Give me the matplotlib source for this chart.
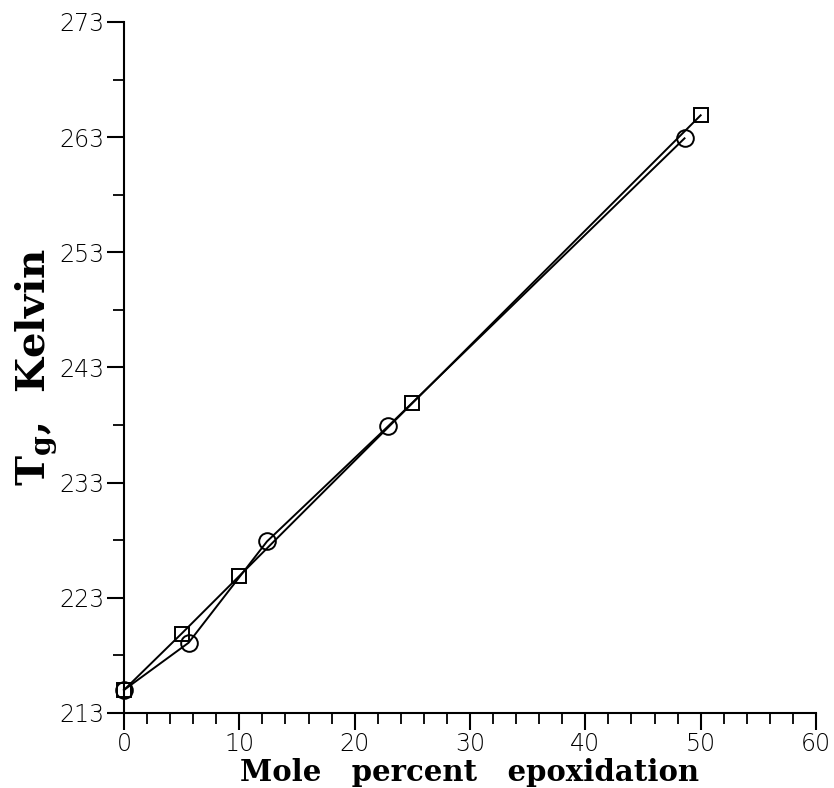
import matplotlib
matplotlib.use("Agg")
import matplotlib.pyplot as plt
import numpy as np

circle_x = [0.0, 5.6, 12.4, 22.9, 48.6]
circle_y = [215.0, 219.1, 227.9, 237.9, 262.9]
square_x = [0.0, 5.0, 10.0, 25.0, 50.0]
square_y = [215.0, 219.9, 224.9, 239.9, 264.9]

xticks = [0, 10, 20, 30, 40, 50, 60]
yticks = [213, 223, 233, 243, 253, 263, 273]

plt.rcParams["mathtext.fontset"] = "dejavuserif"

fig = plt.figure(figsize=(8.34, 7.88), dpi=100)
ax = fig.add_axes([124/834, 1-713/788, (816-124)/834, (713-22)/788])

ax.plot(circle_x, circle_y, color="black", lw=1.4, marker="o", ms=12,
        mfc="none", mec="black", mew=1.4, zorder=3, clip_on=False)
ax.plot(square_x, square_y, color="black", lw=1.4, marker="s", ms=10,
        mfc="none", mec="black", mew=1.4, zorder=3, clip_on=False)

ax.set_xlim(0, 60)
ax.set_ylim(213, 273)
ax.set_xticks(xticks)
ax.set_yticks(yticks)
ax.set_xticks(np.arange(0, 61, 2), minor=True)
ax.set_yticks(np.arange(218, 273, 10), minor=True)
for s in ["top", "right"]:
    ax.spines[s].set_visible(False)
for s in ["left", "bottom"]:
    ax.spines[s].set_linewidth(1.5)
ax.tick_params(which="major", direction="out", length=12, width=1.5,
               labelsize=17, pad=2)
ax.tick_params(which="minor", direction="out", length=8, width=1.3)
for lab in ax.get_xticklabels() + ax.get_yticklabels():
    lab.set_fontweight("light")

ax.set_xlabel("Mole   percent   epoxidation", fontsize=21, fontweight="bold",
              family="DejaVu Serif", labelpad=1)
ax.set_ylabel(r"T$_{\mathbf{g}}$,  Kelvin", fontsize=29, fontweight="bold",
              family="DejaVu Serif", labelpad=0)

fig.savefig("out.png", dpi=100)
